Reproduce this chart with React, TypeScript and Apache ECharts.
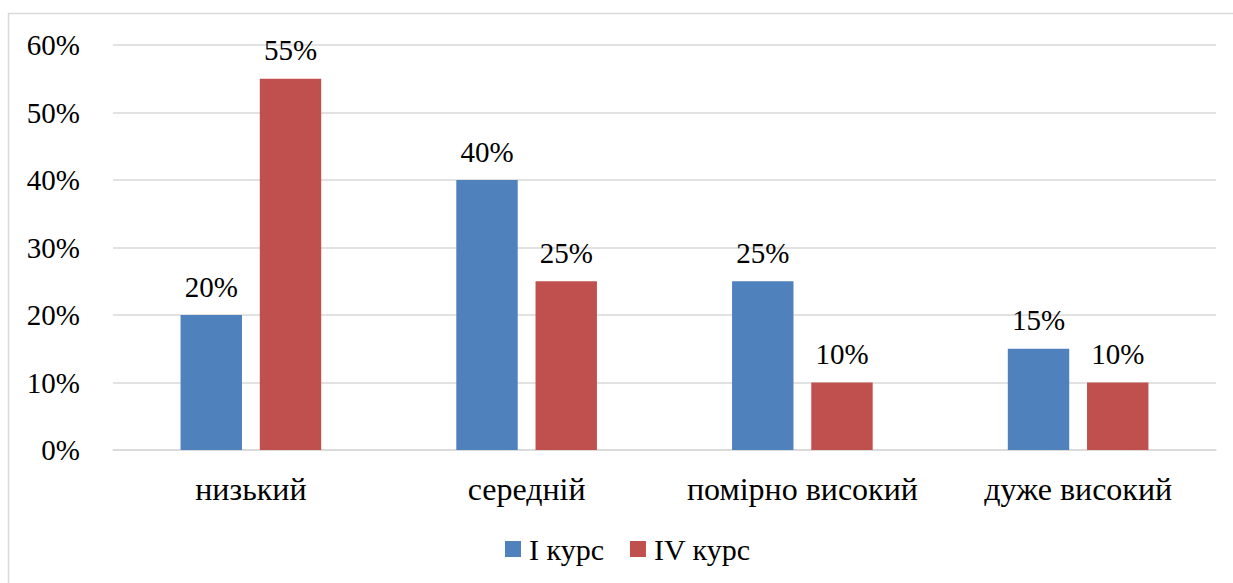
import React, { useEffect, useRef } from "react";
import * as echarts from "echarts";

const categories = ["низький", "середній", "помірно високий", "дуже високий"];
const seriesNames = ["I курс", "IV курс"];
const course1 = [20, 40, 25, 15];
const course4 = [55, 25, 10, 10];
const colors = ["#4F81BD", "#C0504D"];

const FONT = "Liberation Serif";

export default function App() {
  const ref = useRef<HTMLDivElement>(null);
  useEffect(() => {
    if (!ref.current) return;
    const chart = echarts.init(ref.current, null, { renderer: "svg" });
    const label = {
      show: true,
      position: "top" as const,
      distance: 14,
      formatter: (p: any) => p.value + "%",
      fontFamily: FONT,
      fontSize: 29,
      color: "#000",
    };
    chart.setOption({
      animation: false,
      backgroundColor: "#fff",
      textStyle: { fontFamily: FONT },
      graphic: [
        {
          type: "rect",
          shape: { x: 8.5, y: 13.5, width: 1240, height: 600 },
          style: { fill: "none", stroke: "#d9d9d9", lineWidth: 1.5 },
          silent: true,
        },
      ],
      grid: { left: 113, right: 17, top: 45, bottom: 133 },
      legend: {
        bottom: 14,
        left: 500,
        itemWidth: 16,
        itemHeight: 16,
        itemGap: 26,
        icon: "rect",
        textStyle: {
          fontFamily: FONT,
          fontSize: 30,
          color: "#000",
          padding: [0, 0, 0, 3],
        },
        data: seriesNames,
      },
      xAxis: {
        type: "category",
        data: categories,
        axisLine: { lineStyle: { color: "#d9d9d9", width: 1.5 } },
        axisTick: { show: false },
        axisLabel: {
          fontFamily: FONT,
          fontSize: 32,
          color: "#000",
          margin: 23,
          interval: 0,
          hideOverlap: false,
        },
      },
      yAxis: {
        type: "value",
        min: 0,
        max: 60,
        interval: 10,
        axisLine: { show: false },
        axisTick: { show: false },
        splitLine: { lineStyle: { color: "#d9d9d9", width: 1.5 } },
        axisLabel: {
          fontFamily: FONT,
          fontSize: 29,
          color: "#000",
          margin: 33,
          formatter: "{value}%",
        },
      },
      series: [
        {
          name: seriesNames[0],
          type: "bar",
          data: course1,
          itemStyle: { color: colors[0] },
          barGap: "29%",
          barCategoryGap: "49%",
          label,
        },
        {
          name: seriesNames[1],
          type: "bar",
          data: course4,
          itemStyle: { color: colors[1] },
          barGap: "29%",
          barCategoryGap: "49%",
          label,
        },
      ],
    });
    return () => chart.dispose();
  }, []);
  return (
    <div
      ref={ref}
      style={{ position: "absolute", left: 0, top: 0, width: 1233, height: 583 }}
    />
  );
}
